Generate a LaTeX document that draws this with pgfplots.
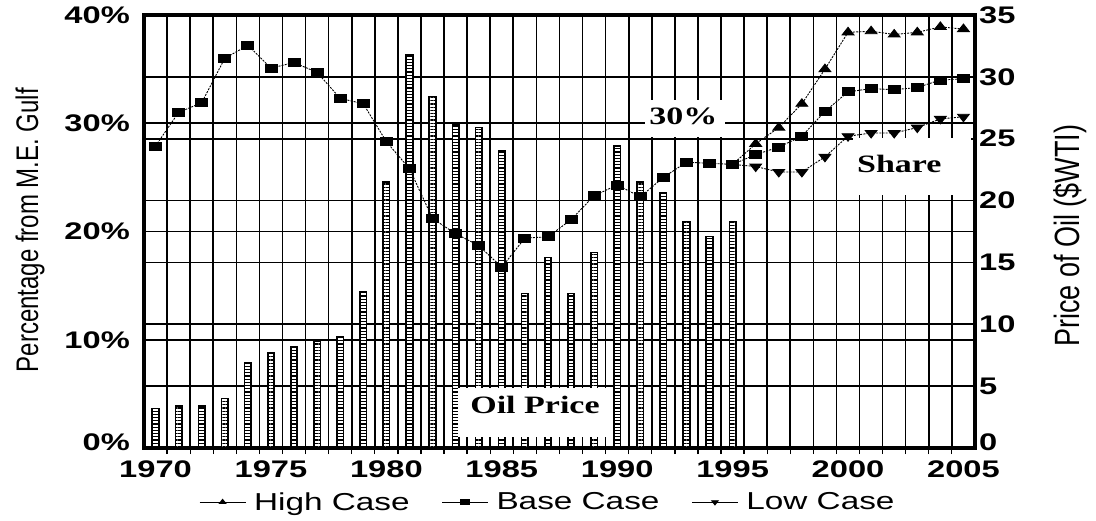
\documentclass[border=0pt]{standalone}
\usepackage{fontspec}
\usepackage{graphicx}
\usepackage{pgfplots}
\pgfplotsset{compat=1.18}
\usepackage{pgfplotstable}
\usetikzlibrary{patterns.meta}
\newfontfamily\sansS{Liberation Sans}[FakeStretch=1.36]
\newfontfamily\serifS{Liberation Serif}[FakeStretch=1.36]
\newfontfamily\sansN{Liberation Sans}
\newcommand\tickfont{\sansS\bfseries\fontsize{24}{28}\selectfont}
\newcommand\boxfont{\serifS\bfseries\fontsize{25}{30}\selectfont}
\newcommand\legfont{\sansS\fontsize{24.5}{30}\selectfont}

\pgfplotstableread{
year price
1970 3.2
1971 3.4
1972 3.4
1973 4.0
1974 6.9
1975 7.7
1976 8.2
1977 8.6
1978 9.0
1979 12.6
1980 21.5
1981 31.8
1982 28.4
1983 26.1
1984 25.9
1985 24.0
1986 12.5
1987 15.4
1988 12.5
1989 15.8
1990 24.4
1991 21.5
1992 20.6
1993 18.3
1994 17.1
1995 18.3
}\pricetable

\pgfplotstableread{
year share
1970 27.9
1971 31.0
1972 31.9
1973 36.0
1974 37.2
1975 35.1
1976 35.6
1977 34.7
1978 32.3
1979 31.8
1980 28.3
1981 25.8
1982 21.2
1983 19.8
1984 18.7
1985 16.7
1986 19.4
1987 19.5
1988 21.1
1989 23.3
1990 24.3
1991 23.2
1992 25.0
1993 26.4
1994 26.3
1995 26.2
1996 27.1
1997 27.8
1998 28.8
1999 31.1
2000 32.9
2001 33.2
2002 33.1
2003 33.3
2004 34.0
2005 34.1
}\basetable

\pgfplotstableread{
year share
1995 26.2
1996 28.1
1997 29.6
1998 31.8
1999 35.0
2000 38.4
2001 38.5
2002 38.2
2003 38.4
2004 38.9
2005 38.7
}\hightable

\pgfplotstableread{
year share
1995 26.2
1996 26.0
1997 25.5
1998 25.5
1999 26.9
2000 28.8
2001 29.1
2002 29.1
2003 29.6
2004 30.4
2005 30.6
}\lowtable

\begin{document}
\begin{tikzpicture}
\path[use as bounding box] (0,0) rectangle (1096pt,520pt);
\pgfplotsset{commonax/.style={at={(144pt,72pt)}, anchor=south west,
  width=831pt, height=433pt, scale only axis, xmin=1969.5, xmax=2005.5}}

% Axis A: frame, left scale, x ticks, grid
\begin{axis}[commonax, ymin=0, ymax=40,
  axis line style={line width=4.5pt},
  xtick={1970,1975,...,2005},
  xticklabels={1970,1975,1980,1985,1990,1995,2000,2005},
  minor xtick={1970.5,1971.5,...,2004.5},
  ytick={10,20,30,40},
  yticklabels={10\%,20\%,30\%,40\%},
  extra y ticks={0}, extra y tick labels={0\%},
  extra y tick style={yticklabel style={yshift=6pt}},
  xminorgrids=true, ymajorgrids=true, xmajorgrids=false,
  grid style={line width=1.6pt, black},
  minor grid style={line width=1.6pt, black},
  every minor grid/.append style={line width=1.6pt, black},
  major tick length=0pt, minor tick length=6pt, tick align=outside,
  xtick pos=left, ytick pos=left,
  tick style={line width=1.3pt, black},
  xticklabel style={font=\tickfont, anchor=center, inner sep=0pt, yshift=-21pt},
  yticklabel style={font=\tickfont, anchor=east, inner sep=0pt, xshift=-14pt},
  ylabel={\scalebox{1}[1.3]{Percentage from M.E. Gulf}},
  ylabel style={font=\sansN\fontsize{24}{28}\selectfont,
    at={(axis description cs:-0.137,0.503)}, anchor=center},
]
\end{axis}

% Axis B: right scale, oil price bars, label boxes
\begin{axis}[commonax, ymin=0, ymax=35,
  axis x line=none, axis y line*=right,
  y axis line style={draw=none},
  ytick={5,10,...,35},
  yticklabels={5,10,15,20,25,30,35},
  extra y ticks={0}, extra y tick labels={0},
  extra y tick style={yticklabel style={yshift=6pt}},
  ymajorgrids=true,
  grid style={line width=1.6pt, black},
  major tick length=0pt,
  yticklabel style={font=\tickfont, anchor=west, inner sep=0pt, xshift=4pt},
  ylabel={\scalebox{1}[1.3]{Price of Oil (\$WTI)}},
  ylabel style={font=\sansN\fontsize{27}{32}\selectfont,
    at={(axis description cs:1.114,0.49)}, anchor=center},
]
\addplot[ybar, bar width=6.5pt, draw=black, line width=1.6pt,
  preaction={fill=white},
  pattern={Lines[angle=0,distance=3.2pt,line width=1.3pt]}]
  table[x=year,y=price] {\pricetable};
\fill[white] (rel axis cs:0.378,0.025) rectangle (rel axis cs:0.563,0.139);
\node[font=\boxfont, inner sep=0pt] at (rel axis cs:0.4705,0.099) {Oil Price};
\fill[white] (rel axis cs:0.603,0.718) rectangle (rel axis cs:0.699,0.804);
\node[font=\boxfont, inner sep=0pt] at (rel axis cs:0.649,0.766) {30\%};
\fill[white] (rel axis cs:0.853,0.584) rectangle (rel axis cs:0.995,0.715);
\node[font=\boxfont, inner sep=0pt] at (rel axis cs:0.909,0.655) {Share};
\end{axis}

% Axis C: share lines and legend
\begin{axis}[commonax, ymin=0, ymax=40, hide axis, clip=false,
  legend style={at={(0.486,-0.125)}, anchor=center, draw=none, fill=none,
    legend columns=3, font=\legfont,
    /tikz/every even column/.append style={column sep=30pt},
    /tikz/every odd column/.append style={column sep=6pt}},
  legend image code/.code={\draw[mark repeat=2,mark phase=2]
    plot coordinates {(0pt,0pt)(23pt,0pt)(46pt,0pt)};},
  legend image post style={solid, mark size=2.8pt},
]
\addplot[black, line width=0.9pt, dash pattern=on 2pt off 1.2pt,
  mark=triangle*, mark phase=2, mark size=5pt,
  mark options={solid, xscale=1.35}]
  table[x=year,y=share] {\hightable};
\addlegendentry{\legfont High Case}
\addplot[black, line width=0.9pt, dash pattern=on 2pt off 1.2pt,
  mark=square*, mark size=4pt,
  mark options={solid, xscale=1.5}]
  table[x=year,y=share] {\basetable};
\addlegendentry{\legfont Base Case}
\addplot[black, line width=0.9pt, dash pattern=on 2pt off 1.2pt,
  mark=triangle*, mark phase=2, mark size=5pt,
  mark options={solid, rotate=180, xscale=1.35}]
  table[x=year,y=share] {\lowtable};
\addlegendentry{\legfont Low Case}
\end{axis}
\end{tikzpicture}
\end{document}
